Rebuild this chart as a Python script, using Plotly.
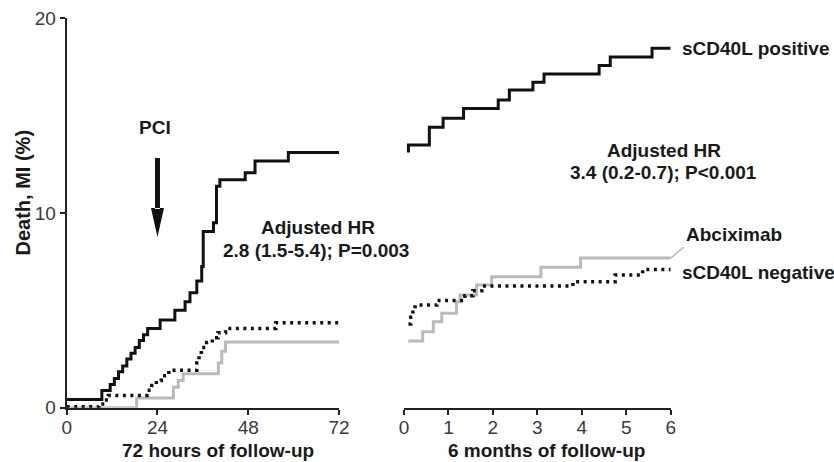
import plotly.graph_objects as go

# ---------------- data ----------------
# 72-hour panel (hours, %)
pos_72h_t = [0, 9.3, 11.5, 12.6, 13.7, 14.8, 15.9, 17.0, 18.1, 19.2, 20.3, 21.4, 24.7, 28.6,
             31.3, 32.6, 34.4, 35.7, 36.1, 38.8, 39.6, 40.5, 47.2, 49.8, 58.6, 72]
pos_72h_v = [0.43, 0.89, 1.2, 1.5, 1.85, 2.15, 2.5, 2.8, 3.1, 3.45, 3.75, 4.07, 4.5, 5.0,
             5.44, 5.9, 6.5, 7.25, 9.05, 9.5, 11.37, 11.7, 12.06, 12.66, 13.1, 13.1]

neg_72h_t = [0, 8.5, 10.0, 11.0, 21.2, 22.5, 23.7, 25.0, 27.0, 34.4, 35.0, 35.6, 37.0, 38.5,
             40.0, 42.0, 55.3, 72]
neg_72h_v = [0.05, 0.2, 0.4, 0.63, 0.9, 1.15, 1.4, 1.65, 1.93, 2.3, 2.7, 3.1, 3.35, 3.6,
             3.85, 4.07, 4.36, 4.36]

abc_72h_t = [0, 18.5, 28.2, 29.5, 30.8, 40.1, 41.0, 42.0, 72]
abc_72h_v = [0, 0.5, 1.06, 1.4, 1.75, 2.3, 2.9, 3.38, 3.38]

# 6-month panel (months, %)
pos_6m_t = [0.1, 0.1, 0.57, 0.88, 1.34, 2.12, 2.37, 2.9, 3.15, 4.39, 4.64, 5.58, 6]
pos_6m_v = [13.1, 13.49, 14.4, 14.86, 15.36, 15.79, 16.3, 16.7, 17.13, 17.56, 18.0, 18.45, 18.45]

neg_6m_t = [0.1, 0.15, 0.2, 0.25, 0.74, 1.37, 1.55, 1.75, 3.8, 4.75, 5.37, 6]
neg_6m_v = [4.3, 4.65, 5.0, 5.27, 5.5, 5.75, 6.0, 6.25, 6.47, 6.82, 7.1, 7.1]

abc_6m_t = [0.1, 0.42, 0.66, 0.85, 1.18, 1.26, 1.63, 1.97, 3.08, 3.97, 6]
abc_6m_v = [3.43, 3.9, 4.41, 4.85, 5.44, 5.79, 6.3, 6.73, 7.21, 7.68, 7.68]

x72_ticks = [0, 24, 48, 72]
x6_ticks = [0, 1, 2, 3, 4, 5, 6]
y_ticks = [0, 10, 20]

pci_hour = 24
pci_tip_value = 8.76

# ---------------- figure ----------------
W, H = 834, 462
FONT = "Liberation Sans, Arial, sans-serif"
BLACK = "#111111"
GREY = "#bababa"
TXT = "#1a1a1a"

def px(x):
    return x / W

def py(y):
    return 1 - y / H

fig = go.Figure()

def add(t, v, style, xa, ya):
    if style == "pos":
        line = dict(color=BLACK, width=3, shape="hv")
    elif style == "neg":
        line = dict(color=BLACK, width=3.5, shape="hv", dash="3px,4.5px")
    else:
        line = dict(color=GREY, width=3, shape="hv")
    fig.add_trace(go.Scatter(x=t, y=v, mode="lines", line=line, xaxis=xa, yaxis=ya,
                             showlegend=False, hoverinfo="skip"))

add(abc_72h_t, abc_72h_v, "abc", "x", "y")
add(neg_72h_t, neg_72h_v, "neg", "x", "y")
add(pos_72h_t, pos_72h_v, "pos", "x", "y")
add(abc_6m_t, abc_6m_v, "abc", "x2", "y2")
add(neg_6m_t, neg_6m_v, "neg", "x2", "y2")
add(pos_6m_t, pos_6m_v, "pos", "x2", "y2")

ydom = [py(407.8), py(18)]
tickfont = dict(family=FONT, size=19, color="#3a3a3a")
axis_common = dict(showline=True, linecolor="#222222", linewidth=2, ticks="outside",
                   tickwidth=2, tickcolor="#222222", showgrid=False, zeroline=False,
                   tickfont=tickfont, automargin=False)

fig.update_layout(
    template="none",
    width=W, height=H,
    margin=dict(l=0, r=0, t=0, b=0, pad=0),
    paper_bgcolor="white", plot_bgcolor="white",
    xaxis=dict(domain=[px(66.7), px(339)], range=[0, 72], tickvals=x72_ticks,
               ticklen=5, ticklabelstandoff=-4, anchor="y", **axis_common),
    yaxis=dict(domain=ydom, range=[0, 20], tickvals=y_ticks,
               ticklen=5, anchor="x", **axis_common),
    xaxis2=dict(domain=[px(404), px(670.7)], range=[0, 6], tickvals=x6_ticks,
                ticklen=5, ticklabelstandoff=-4, anchor="y2", **axis_common),
    yaxis2=dict(domain=ydom, range=[0, 20], visible=False, anchor="x2", automargin=False),
)

def text(s, x, y, xanchor="center", size=19, angle=0):
    fig.add_annotation(text="<b>" + s + "</b>", x=px(x), y=py(y), xref="paper", yref="paper",
                       xanchor=xanchor, yanchor="middle", showarrow=False,
                       font=dict(family=FONT, size=size, color=TXT), textangle=angle)

text("PCI", 155, 127)
text("Adjusted HR", 317.5, 227)
text("2.8 (1.5-5.4); P=0.003", 316, 250)
text("Adjusted HR", 663.5, 150)
text("3.4 (0.2-0.7); P<0.001", 663, 173)
text("sCD40L positive", 680, 48, xanchor="left")
text("sCD40L negative", 680, 272, xanchor="left")
text("72 hours of follow-up", 218, 450)
text("6 months of follow-up", 546, 450)
text("Death, MI (%)", 22.5, 193, size=20, angle=-90)

# PCI arrow: narrow shaft + long triangular head, sized in pixels around the tip
fig.add_shape(type="path", xref="x", yref="y", xsizemode="pixel", ysizemode="pixel",
              xanchor=pci_hour, yanchor=pci_tip_value,
              path="M-2.5,28 L-2.5,79 L2.5,79 L2.5,28 Z M-6.5,29 L6.5,29 L0,0 Z",
              fillcolor="#111111", line=dict(width=0))

# Abciximab label with leader line
fig.add_annotation(x=6, y=abc_6m_v[-1], xref="x2", yref="y2", ax=13, ay=-11,
                   text="<b>Abciximab</b>", xanchor="left", yanchor="bottom",
                   showarrow=True, arrowhead=0, arrowwidth=1.5, arrowcolor=GREY,
                   font=dict(family=FONT, size=19, color=TXT))

fig.write_html("out.html", config={"displayModeBar": False},
               post_script="document.body.style.margin='0';document.body.style.overflow='hidden';")
